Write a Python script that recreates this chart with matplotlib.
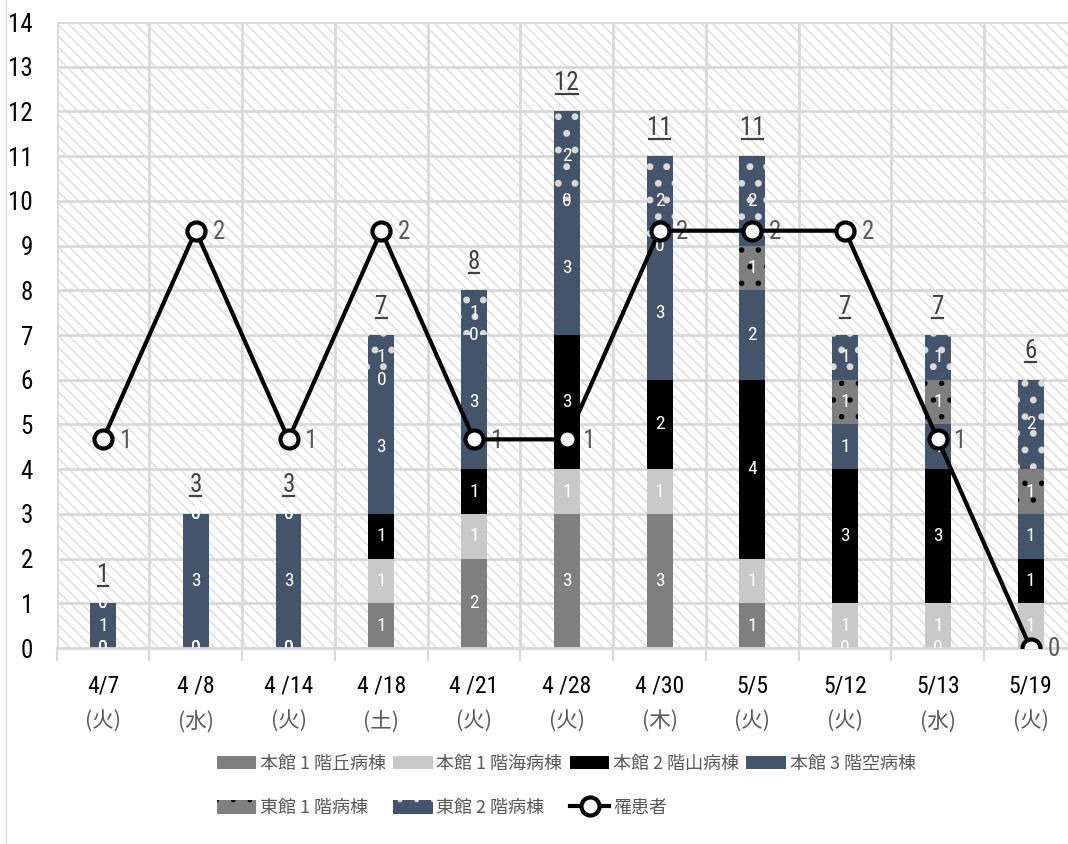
import matplotlib
matplotlib.use('Agg')
import matplotlib.pyplot as plt
from matplotlib import font_manager
from matplotlib.patches import Rectangle
from matplotlib.lines import Line2D
import numpy as np

# data
dates = ['4/7', '4 /8', '4 /14', '4 /18', '4 /21', '4 /28', '4 /30', '5/5', '5/12', '5/13', '5/19']
weekdays = ['(火)', '(水)', '(火)', '(土)', '(火)', '(火)', '(木)', '(火)', '(火)', '(水)', '(火)']

ward_names = ['本館 1 階丘病棟', '本館 1 階海病棟', '本館 2 階山病棟', '本館 3 階空病棟',
              '東館 1 階病棟', '東館 2 階病棟']
oka = [0, 0, 0, 1, 2, 3, 3, 1, 0, 0, 0]
umi = [0, 0, 0, 1, 1, 1, 1, 1, 1, 1, 1]
yama = [0, 0, 0, 1, 1, 3, 2, 4, 3, 3, 1]
sora = [1, 3, 3, 3, 3, 3, 3, 2, 1, 1, 1]
east1 = [0, 0, 0, 0, 0, 0, 0, 1, 1, 1, 1]
east2 = [0, 0, 0, 1, 1, 2, 2, 2, 1, 1, 2]
patients_name = '罹患者'
patients = [1, 2, 1, 2, 1, 1, 2, 2, 2, 1, 0]

# fonts: look for a narrow face for the numbers (Calibri-like)
fm = font_manager.fontManager
names = {f.name for f in fm.ttflist}
num_font = None
for cand in ['Liberation Sans Narrow', 'Roboto Condensed', 'Open Sans Condensed']:
    if cand in names:
        num_font = cand
        break
if num_font is None:
    if any(f.name == 'DejaVu Sans' and f.stretch == 'condensed' for f in fm.ttflist):
        num_font = 'DejaVu Sans'
        plt.rcParams['font.stretch'] = 'condensed'
    elif 'Roboto' in names:
        num_font = 'Roboto'
    else:
        num_font = 'DejaVu Sans'
jp_font = 'Noto Sans CJK JP'
plt.rcParams['font.family'] = [num_font, jp_font, 'DejaVu Sans']
plt.rcParams['hatch.linewidth'] = 1.0

grid_col = '#d9d9d9'

fig = plt.figure(figsize=(10.68, 8.44), dpi=100)
ax = fig.add_axes([0.053, 0.2322, 0.9554, 0.7417])

# hatched plot area
ax.add_patch(Rectangle((0, 0), 1, 1, transform=ax.transAxes, facecolor='white',
                       edgecolor='#dcdcdc', hatch='\\\\\\', lw=0, zorder=0))

x = np.arange(len(dates))
series = [oka, umi, yama, sora, east1, east2]
fills = ['#7f7f7f', '#c9c9c9', '#000000', '#44546a', '#7f7f7f', '#44546a']
hatches = [None, None, None, None, '.', '.']
hatch_cols = [None, None, None, None, '#000000', '#d9d9d9']
hatch_lws = [1, 1, 1, 1, 1.5, 2.5]

bw = 0.28
bottom = np.zeros(len(x))
handles = []
for vals, name, fc, h, hc, hlw in zip(series, ward_names, fills, hatches, hatch_cols, hatch_lws):
    vals = np.array(vals)
    if h:
        b = ax.bar(x, vals, bw, bottom=bottom, color=fc, edgecolor=hc, hatch=h,
                   lw=0, label=name, zorder=2)
        for p in b.patches:
            if hasattr(p, 'set_hatch_linewidth'):
                p.set_hatch_linewidth(hlw)
    else:
        b = ax.bar(x, vals, bw, bottom=bottom, color=fc, lw=0, label=name, zorder=2)
    handles.append(b)
    for i in range(len(x)):
        ax.text(x[i], bottom[i] + vals[i] / 2, str(vals[i]), ha='center', va='center',
                color='white', fontsize=14, clip_on=True, zorder=3)
    bottom = bottom + vals

# totals, underlined
for i in range(len(x)):
    tot = int(bottom[i])
    ax.text(x[i], tot + 0.48, str(tot), ha='center', va='baseline',
            color='#404040', fontsize=18, zorder=3)
    hw = 0.058 * len(str(tot))
    ax.plot([x[i] - hw, x[i] + hw], [tot + 0.39, tot + 0.39], color='#404040',
            lw=1.6, zorder=3)

ax.set_xlim(-0.5, len(x) - 0.5)
ax.set_ylim(0, 14)
ax.set_yticks(range(0, 15))
ax.tick_params(axis='y', length=0, labelsize=18, pad=17, labelcolor='black')
ax.set_xticks(np.arange(-0.5, len(x), 1))
ax.set_xticklabels([])
ax.tick_params(axis='x', length=9, width=1.5, color=grid_col)
ax.grid(True, color=grid_col, lw=2)
ax.set_axisbelow(True)
for s in ['top', 'right', 'left']:
    ax.spines[s].set_visible(False)
ax.spines['bottom'].set_color(grid_col)
ax.spines['bottom'].set_linewidth(2)

for i in range(len(x)):
    ax.annotate(dates[i], (x[i], 0), xytext=(0, -27), textcoords='offset points',
                ha='center', va='center', fontsize=17, color='black',
                annotation_clip=False)
    ax.annotate(weekdays[i], (x[i], 0), xytext=(0, -53), textcoords='offset points',
                ha='center', va='center', fontsize=15.5, color='#595959',
                family=[jp_font, 'DejaVu Sans'], annotation_clip=False)

# patients line on hidden secondary axis
ax2 = ax.twinx()
ax2.set_ylim(0, 3)
ax2.set_yticks([])
for s in ax2.spines.values():
    s.set_visible(False)
line, = ax2.plot(x, patients, color='black', lw=3, marker='o', ms=13,
                 mfc='white', mec='black', mew=3, label=patients_name, zorder=5)
for i in range(len(x)):
    ax2.annotate(str(patients[i]), (x[i], patients[i]), xytext=(12, -1),
                 textcoords='offset points', ha='left', va='center',
                 fontsize=18, color='#595959', annotation_clip=False)

# legend laid out row by row
order = [handles[0], handles[4], handles[1], handles[5], handles[2], line, handles[3]]
fig.legend(handles=order, loc='upper center', bbox_to_anchor=(0.53, 0.125), ncol=4,
           frameon=False, prop={'family': [jp_font, 'DejaVu Sans'], 'size': 13},
           labelcolor='#595959', handlelength=2.2, handleheight=0.8,
           handletextpad=0.2, columnspacing=0.4, labelspacing=1.45)

fig.add_artist(Line2D([0.006, 0.006], [0, 1], transform=fig.transFigure,
                      color=grid_col, lw=1))

fig.savefig('out.png', dpi=100)
